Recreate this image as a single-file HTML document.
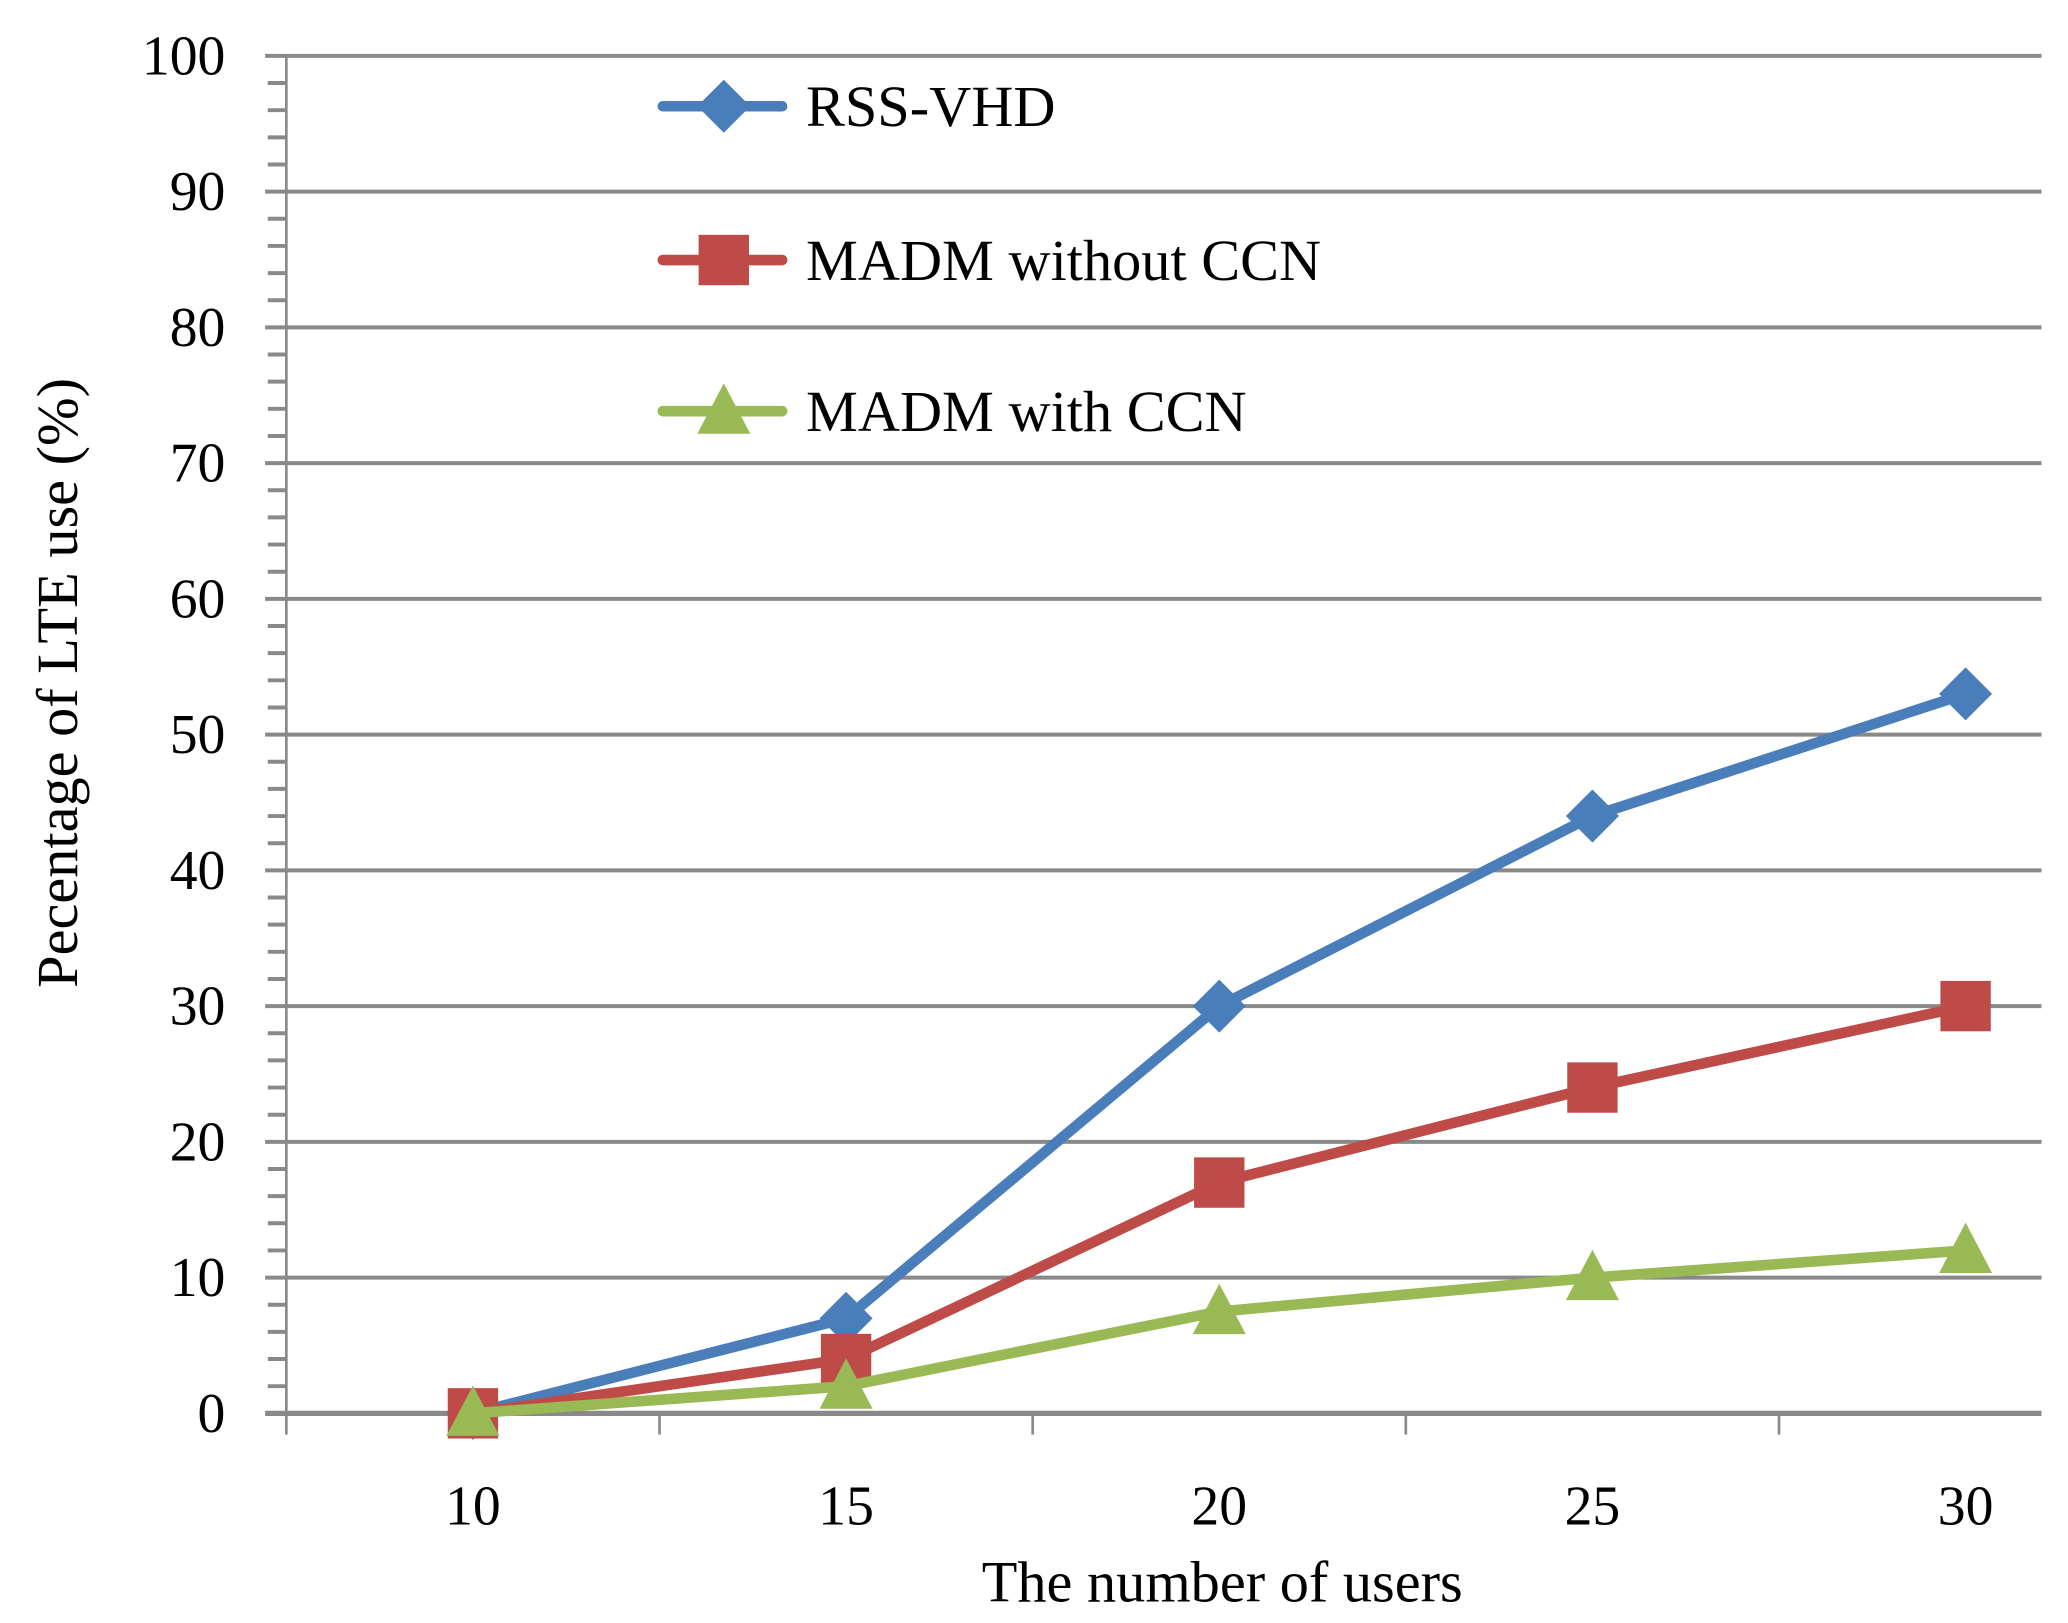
<!DOCTYPE html>
<html><head><meta charset="utf-8"><style>
html,body{margin:0;padding:0;background:#fff;}
svg{display:block;}
text{font-family:"Liberation Serif",serif;fill:#000;}
</style></head><body>
<svg id="chart" width="2068" height="1623" viewBox="0 0 1560 1224" xmlns="http://www.w3.org/2000/svg">
<g id="grid"></g>
<g id="axes"></g>
<g id="series"></g>
<g id="legend"></g>
<text transform="translate(58,515) rotate(-90)" text-anchor="middle" font-size="44">Pecentage of LTE use (%)</text>
<text x="922" y="1208" text-anchor="middle" font-size="44">The number of users</text>
</svg>
<script>
const categories = [10, 15, 20, 25, 30];
const rssVhd = [0, 7, 30, 44, 53];
const madmWithout = [0, 4, 17, 24, 30];
const madmWith = [0, 2, 7.5, 10, 12];
const yTicks = [0, 10, 20, 30, 40, 50, 60, 70, 80, 90, 100];
const seriesNames = ["RSS-VHD", "MADM without CCN", "MADM with CCN"];

const NS = "http://www.w3.org/2000/svg";
const L = 216, R = 1540, Y0 = 1066, Y100 = 42;
const band = 281.5;
const yScale = v => Y0 - (v / 100) * (Y0 - Y100);
const xScale = i => L + band * (i + 0.5);
function mk(tag, attrs, parent) {
  const e = document.createElementNS(NS, tag);
  for (const k in attrs) e.setAttribute(k, attrs[k]);
  parent.appendChild(e);
  return e;
}
const grid = document.getElementById('grid');
const axes = document.getElementById('axes');
yTicks.forEach(t => {
  const y = yScale(t);
  const gl = mk('line', {x1: 200, x2: R, y1: y, y2: y, stroke: '#898989', 'stroke-width': t === 0 ? 4 : 3}, grid);
  
  
  const tl = mk('text', {x: 170, y: y + 14, 'text-anchor': 'end', 'font-size': 42}, axes);
  tl.textContent = t;
  
  
  if (t < 100) for (let m = 1; m < 5; m++) {
    const ym = yScale(t + m * 2);
    const mt = mk('line', {x1: 202, x2: 216, y1: ym, y2: ym, stroke: '#898989', 'stroke-width': 3}, axes);
    
    
  }
});
const ya = mk('line', {x1: L, x2: L, y1: Y100, y2: Y0, stroke: '#898989', 'stroke-width': 2}, axes);


for (let i = 0; i < categories.length; i++) {
  const xt = L + band * i;
  const tk = mk('line', {x1: xt, x2: xt, y1: Y0, y2: Y0 + 16, stroke: '#898989', 'stroke-width': 2}, axes);
  
  
  const lb = mk('text', {x: xScale(i), y: 1150, 'text-anchor': 'middle', 'font-size': 42}, axes);
  lb.textContent = categories[i];
  
  
}
const colors = ['#4a7ebb', '#be4b48', '#98b954'];
const datasets = [rssVhd, madmWithout, madmWith];
const series = document.getElementById('series');
function marker(kind, cx, cy, color, parent) {
  let e;
  if (kind === 0) e = mk('polygon', {points: `${cx},${cy-20} ${cx+20},${cy} ${cx},${cy+20} ${cx-20},${cy}`, fill: color}, parent);
  else if (kind === 1) e = mk('rect', {x: cx-19, y: cy-19, width: 38, height: 38, fill: color}, parent);
  else e = mk('polygon', {points: `${cx},${cy-21} ${cx+20},${cy+17} ${cx-20},${cy+17}`, fill: color}, parent);
  return e;
}
datasets.forEach((d, s) => {
  const g = mk('g', {}, series);
  
  
  const pts = d.map((v, i) => xScale(i) + ',' + yScale(v)).join(' ');
  const pl = mk('polyline', {points: pts, fill: 'none', stroke: colors[s], 'stroke-width': 8, 'stroke-linejoin': 'round'}, g);
  
  
  d.forEach((v, i) => {
    const m = marker(s, xScale(i), yScale(v), colors[s], g);
    
    
  });
});
const legend = document.getElementById('legend');
const legY = [80, 196, 310];
seriesNames.forEach((n, s) => {
  const g = mk('g', {}, legend);
  
  
  mk('line', {x1: 500, x2: 590, y1: legY[s], y2: legY[s], stroke: colors[s], 'stroke-width': 8, 'stroke-linecap': 'round'}, g);
  marker(s, 546, legY[s], colors[s], g);
  const t = mk('text', {x: 608, y: legY[s] + 15, 'font-size': 44}, g);
  t.textContent = n;
});
</script>
</body></html>
